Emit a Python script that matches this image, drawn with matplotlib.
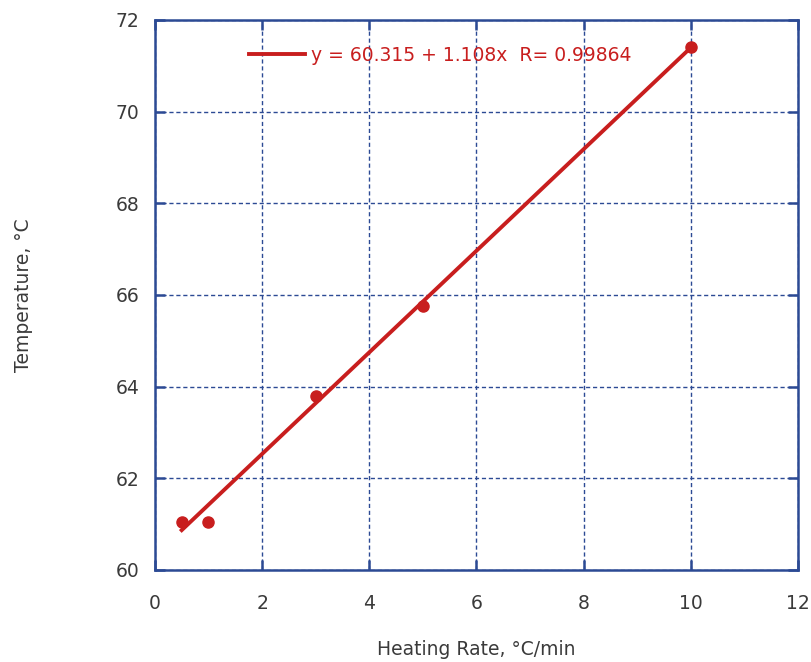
import numpy as np
from matplotlib import pyplot as plt

# heating rate (C/min) vs temperature (C)
rate = [0.5, 1.0, 3.0, 5.0, 10.0]
temp = [61.05, 61.05, 63.8, 65.75, 71.4]
a, b = 60.315, 1.108
fit_x = [0.5, 10.0]
fit_label = "y = 60.315 + 1.108x  R= 0.99864"

red = '#c81e1e'
blue = '#2c4a94'
grey = '#3a3a3a'

fig = plt.figure(figsize=(8.11, 6.62), dpi=100)
ax = fig.add_axes([0.191, 0.139, 0.793, 0.831])

fx = np.array(fit_x)
ax.plot(fx, a + b*fx, color=red, lw=2.8, label=fit_label, zorder=3)
ax.plot(rate, temp, 'o', color=red, markersize=8, zorder=4)

ax.set_xlim(0, 12)
ax.set_ylim(60, 72)
ax.set_xticks(np.arange(0, 13, 2))
ax.set_yticks(np.arange(60, 73, 2))
ax.grid(True, color=blue, ls=(0, (3, 2)), lw=1.0)
for s in ax.spines.values():
    s.set_color(blue)
    s.set_linewidth(1.8)
ax.tick_params(direction='in', length=7, width=1.8, color=blue,
               top=True, right=True, labelsize=13.5, labelcolor=grey)
ax.tick_params(axis='x', pad=17)
ax.tick_params(axis='y', pad=11)

ax.set_xlabel("Heating Rate, °C/min", fontsize=13.5, color=grey)
ax.set_ylabel("Temperature, °C", fontsize=13.5, color=grey)
ax.xaxis.set_label_coords(0.5, -0.145)
ax.yaxis.set_label_coords(-0.205, 0.5)
ax.xaxis.label.set_va('center')
ax.yaxis.label.set_va('center')

leg = ax.legend(loc='upper left', bbox_to_anchor=(0.12, 0.984), frameon=False,
                fontsize=13.5, handlelength=3.0, handletextpad=0.3)
for t in leg.get_texts():
    t.set_color(red)

fig.savefig('out.png', dpi=100)
